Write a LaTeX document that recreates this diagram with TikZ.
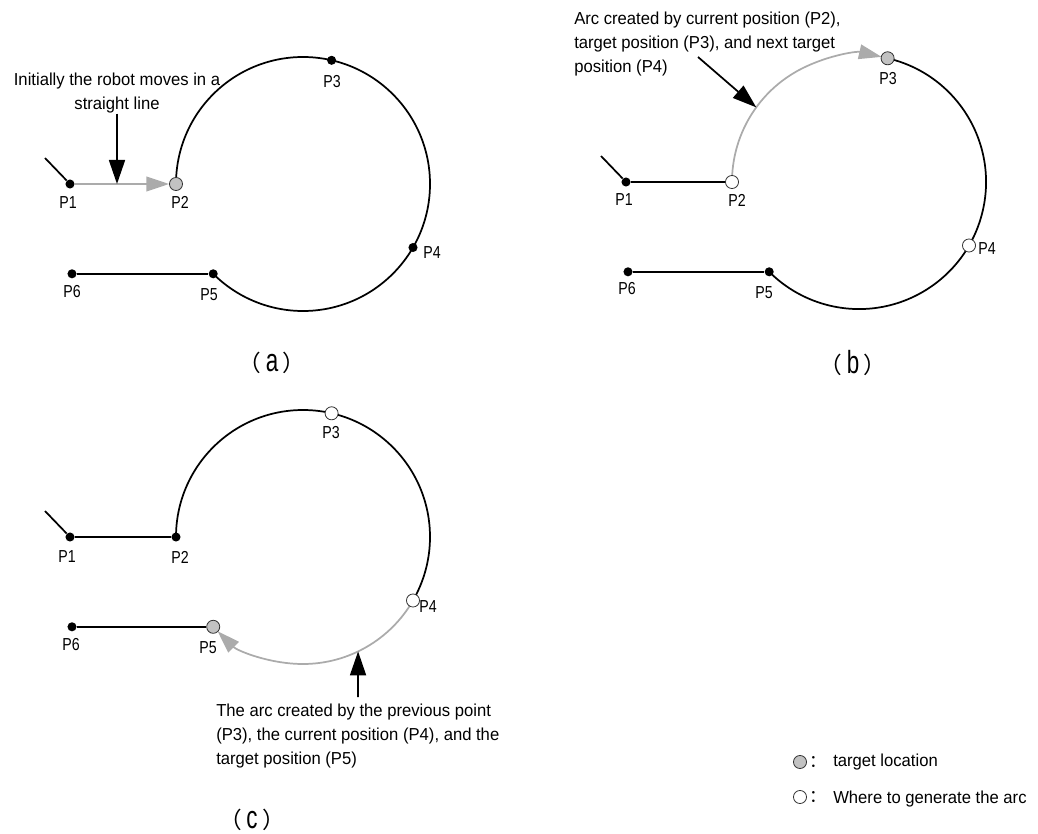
\documentclass[tikz,border=0pt]{standalone}
\usepackage{fontspec}
\setmainfont{Liberation Sans}[FakeStretch=0.96]
\newfontfamily\labelfont{Liberation Sans}[FakeStretch=0.82]
\newfontfamily\capfont{Liberation Sans}[FakeStretch=0.7]
\newfontfamily\cjk{Noto Sans CJK SC}
\usetikzlibrary{arrows.meta, backgrounds, positioning}
\definecolor{arcgray}{HTML}{ABABAB}
\definecolor{markgray}{HTML}{C2C2C2}
\newcommand{\panelcap}[1]{{\cjk\fontsize{17}{17}\selectfont （}\hspace{3.5pt}{\capfont\fontsize{24}{24}\selectfont #1}\hspace{3.5pt}{\cjk\fontsize{17}{17}\selectfont ）}}
\tikzset{
	dotnode/.style={
			circle,
			fill=black,
			minimum size=6.8pt,
			inner sep=0pt
		},
	ringnode/.style={
			circle,
			draw=black!80,
			line width=0.6pt,
			fill=white,
			minimum size=9.8pt,
			inner sep=0pt
		},
	targetnode/.style={
			ringnode,
			fill=markgray
		},
	ptlabel/.style={
			font=\labelfont\fontsize{13}{18}\selectfont,
			inner sep=0pt
		},
	notetext/.style={
			font=\fontsize{13}{18}\selectfont,
			inner sep=0pt
		},
	captext/.style={
			inner sep=0pt
		},
	pathline/.style={
			line width=1.3pt
		},
	grayarrow/.style={
			line width=1.3pt,
			draw=arcgray,
			-{Triangle[length=17pt,width=11pt]}
		},
	notearrow/.style={
			line width=1.3pt,
			-{Triangle[length=18pt,width=12pt]}
		}
}

\begin{document}
\begin{tikzpicture}[x=0.75pt, y=0.75pt]
  \useasboundingbox (0,0) rectangle (1038,-834);

  % (a)
  \begin{scope}
    \node[dotnode] (a1) at (70,-184) {};
    \node[targetnode] (a2) at (176,-184) {};
    \node[dotnode] (a3) at (331.6,-60.3) {};
    \node[dotnode] (a4) at (413,-247.5) {};
    \node[dotnode] (a5) at (213.2,-273.8) {};
    \node[dotnode] (a6) at (72,-273.8) {};
    \coordinate (a0) at (45,-158);
    \coordinate (atip) at (117,-184);

    \node[ptlabel] (la1) at (68,-203) {P1};
    \node[ptlabel] (la2) at (180,-202) {P2};
    \node[ptlabel] (la3) at (332,-82) {P3};
    \node[ptlabel] (la4) at (432,-253) {P4};
    \node[ptlabel] (la5) at (209,-295) {P5};
    \node[ptlabel] (la6) at (72,-292) {P6};

    \node[notetext, align=center, anchor=north] (anote) at (117,-73) {Initially the robot moves in a\\straight line};

    \begin{scope}[on background layer]
      \draw[pathline] (a0) -- (a1);
      \draw[grayarrow] (a1) -- (a2);
      \draw[pathline] (a2.center) arc (180:-135:127);
      \draw[pathline] (a6) -- (a5);
    \end{scope}
    \draw[notearrow] (anote) -- (atip);
  \end{scope}

  % (b)
  \begin{scope}[shift={(556,2)}]
    \node[dotnode] (b1) at (70,-184) {};
    \node[ringnode] (b2) at (176,-184) {};
    \node[targetnode] (b3) at (331.6,-60.3) {};
    \node[ringnode] (b4) at (413,-247.5) {};
    \node[dotnode] (b5) at (213.2,-273.8) {};
    \node[dotnode] (b6) at (72,-273.8) {};
    \coordinate (b0) at (45,-158);
    \coordinate (bstart) at (142,-59);
    \coordinate (btip) at (200.3,-109.4);

    \node[ptlabel] (lb1) at (68,-202) {P1};
    \node[ptlabel] (lb2) at (181,-202) {P2};
    \node[ptlabel] (lb3) at (332,-81) {P3};
    \node[ptlabel] (lb4) at (431,-251) {P4};
    \node[ptlabel] (lb5) at (208,-295) {P5};
    \node[ptlabel] (lb6) at (71,-291) {P6};

    \node[notetext, align=left, anchor=north west] (bnote) at (18,-14) {Arc created by current position (P2),\\target position (P3), and next target\\position (P4)};

    \begin{scope}[on background layer]
      \draw[pathline] (b0) -- (b1) -- (b2);
      \draw[grayarrow, shorten >=4.6pt] (b2.center) arc (180:77:127);
      \draw[pathline] (b3.center) arc (77:-135:127);
      \draw[pathline] (b6) -- (b5);
    \end{scope}
    \draw[notearrow] (bstart) -- (btip);
  \end{scope}

  % (c)
  \begin{scope}[shift={(0,-353)}]
    \node[dotnode] (c1) at (70,-184) {};
    \node[dotnode] (c2) at (176,-184) {};
    \node[ringnode] (c3) at (331.6,-60.3) {};
    \node[ringnode] (c4) at (413,-247.5) {};
    \node[targetnode] (c5) at (213.2,-273.8) {};
    \node[dotnode] (c6) at (72,-273.8) {};
    \coordinate (c0) at (45,-158);
    \coordinate (cstart) at (358,-344);
    \coordinate (ctip) at (358.1,-298.4);

    \node[ptlabel] (lc1) at (67,-204) {P1};
    \node[ptlabel] (lc2) at (180,-204) {P2};
    \node[ptlabel] (lc3) at (331,-80) {P3};
    \node[ptlabel] (lc4) at (428,-254) {P4};
    \node[ptlabel] (lc5) at (208,-295) {P5};
    \node[ptlabel] (lc6) at (71,-292) {P6};

    \node[notetext, align=left, anchor=north west] (cnote) at (216,-351) {The arc created by the previous point\\(P3), the current position (P4), and the\\target position (P5)};

    \begin{scope}[on background layer]
      \draw[pathline] (c0) -- (c1) -- (c2);
      \draw[pathline] (c2.center) arc (180:-30:127);
      \draw[grayarrow, shorten >=4.6pt] (c4.center) arc (-30:-135:127);
      \draw[pathline] (c6) -- (c5);
    \end{scope}
    \draw[notearrow] (cstart) -- (ctip);
  \end{scope}

  % captions
  \node[captext] (capa) at (272,-363) {\panelcap{a}};
  \node[captext] (capb) at (853,-363) {\panelcap{b}};
  \node[captext] (capc) at (252,-820) {\panelcap{c}};

  % legend
  \node[targetnode] (key1) at (800,-762) {};
  \node[ringnode] (key2) at (800,-797) {};
  \node[inner sep=0pt] (col1) at (818,-762) {\cjk\fontsize{13}{13}\selectfont ：};
  \node[inner sep=0pt] (col2) at (818,-797) {\cjk\fontsize{13}{13}\selectfont ：};
  \node[notetext, anchor=base west] (key1txt) at (833,-766) {target location};
  \node[notetext, anchor=base west] (key2txt) at (833,-803) {Where to generate the arc};

\end{tikzpicture}
\end{document}
